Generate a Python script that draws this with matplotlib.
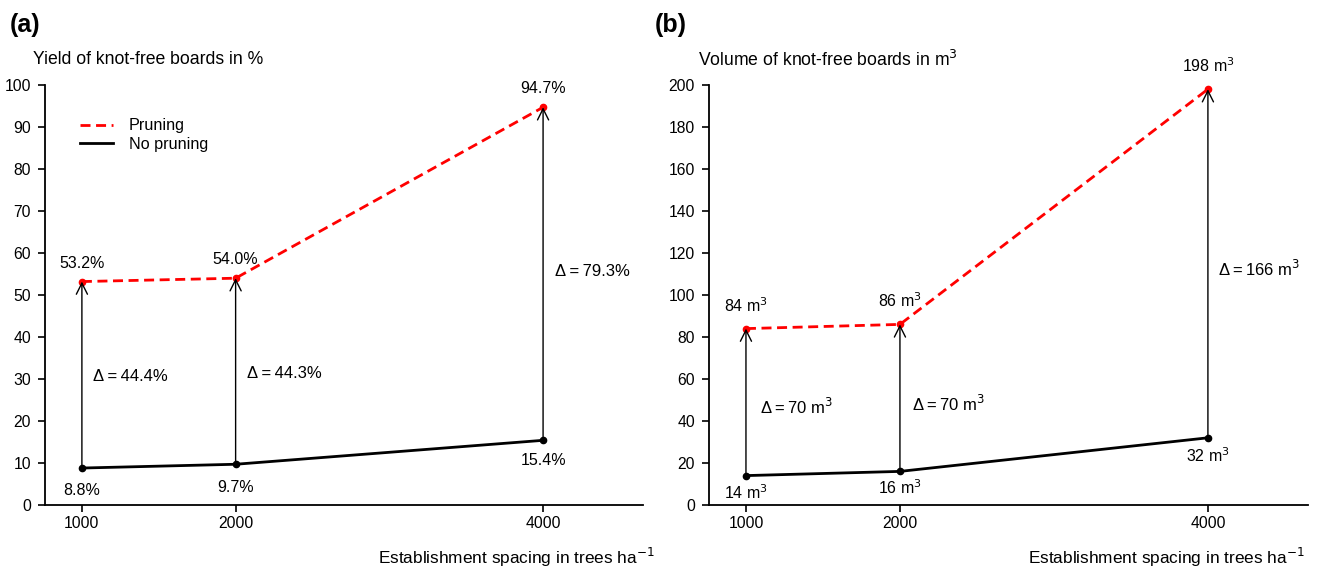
import matplotlib
matplotlib.use("Agg")
import matplotlib.pyplot as plt

plt.rcParams['font.family'] = ['Liberation Sans', 'DejaVu Sans']

spacing = [1000, 2000, 4000]
spacing_labels = ["1000", "2000", "4000"]

# panel (a): yield of knot-free boards in %
yield_pruning = [53.2, 54.0, 94.7]
yield_no_pruning = [8.8, 9.7, 15.4]
yield_delta = [44.4, 44.3, 79.3]

# panel (b): volume of knot-free boards in m3
volume_pruning = [84, 86, 198]
volume_no_pruning = [14, 16, 32]
volume_delta = [70, 70, 166]

W, H = 1317, 570
fig = plt.figure(figsize=(W / 100, H / 100), dpi=100)


def px(x, y):
    return x / W, 1 - y / H


def draw_panel(ax, pr, nopr, delta, ymax, ystep, unit, delta_y, delta_dx,
               top_off, bot_off):
    ax.set_xlim(760, 4650)
    ax.set_ylim(0, ymax)
    ax.set_xticks(spacing)
    ax.set_xticklabels(spacing_labels)
    ax.set_yticks(range(0, ymax + 1, ystep))
    for s in ("top", "right"):
        ax.spines[s].set_visible(False)
    for s in ("left", "bottom"):
        ax.spines[s].set_linewidth(1.3)
    ax.tick_params(axis="x", direction="out", length=5, width=1.2, labelsize=11.3, pad=3)
    ax.tick_params(axis="y", direction="out", length=5, width=1.2, labelsize=11.3, pad=5)

    for x, lo, hi in zip(spacing, nopr, pr):
        ax.annotate("", xy=(x, hi), xytext=(x, lo),
                    arrowprops=dict(arrowstyle="->", color="black", lw=1.0,
                                    mutation_scale=20, shrinkA=0, shrinkB=0))
    ax.plot(spacing, pr, "--", color="red", lw=2, dashes=(3.6, 2), label="Pruning")
    ax.plot(spacing, nopr, "-", color="black", lw=2, label="No pruning")
    ax.plot(spacing, pr, "o", color="red", ms=4.5)
    ax.plot(spacing, nopr, "o", color="black", ms=4.5)

    # offsets in pixels (dpi 100 -> points = px * 0.72)
    for x, v in zip(spacing, pr):
        ax.annotate(unit(v), (x, v), xytext=(0, top_off * 0.72), textcoords="offset points",
                    ha="center", va="baseline", fontsize=11.5)
    for x, v, o in zip(spacing, nopr, bot_off):
        ax.annotate(unit(v), (x, v), xytext=(0, -o * 0.72), textcoords="offset points",
                    ha="center", va="baseline", fontsize=11.5)
    for x, d, dy, dx in zip(spacing, delta, delta_y, delta_dx):
        ax.annotate("Δ\u2009=\u2009" + unit(d), (x, dy), xytext=(dx * 0.72, 0),
                    textcoords="offset points", ha="left", va="center_baseline",
                    fontsize=12)


def pct(v):
    return f"{v:.1f}%"


def m3(v):
    return f"{v:g} m$^3$"


ax1 = fig.add_axes([45 / W, 1 - 505 / H, 598 / W, 420 / H])
draw_panel(ax1, yield_pruning, yield_no_pruning, yield_delta, 100, 10, pct,
           [31, 31.7, 56], [11, 11, 12], 14, [27, 28, 25])
ax1.legend(loc="upper left", bbox_to_anchor=(0.035, 0.955), frameon=False,
           fontsize=11.6, handlelength=2.0, handletextpad=1.0, labelspacing=0.2)

ax2 = fig.add_axes([709 / W, 1 - 505 / H, 599 / W, 420 / H])
draw_panel(ax2, volume_pruning, volume_no_pruning, volume_delta, 200, 20, m3,
           [47.6, 49, 113], [14, 12, 10], 17, [23, 23, 24])

fig.text(*px(10, 25), "(a)", fontsize=18, fontweight="bold", va="center")
fig.text(*px(655, 25), "(b)", fontsize=18, fontweight="bold", va="center")
fig.text(*px(33, 60), "Yield of knot-free boards in %", fontsize=12.7, va="center")
fig.text(*px(698, 60), "Volume of knot-free boards in m$^3$", fontsize=12.7, va="center")
fig.text(*px(655, 557), "Establishment spacing in trees ha$^{-1}$", fontsize=12.4,
         ha="right", va="center")
fig.text(*px(1305, 557), "Establishment spacing in trees ha$^{-1}$", fontsize=12.4,
         ha="right", va="center")

fig.savefig("out.png", dpi=100)
